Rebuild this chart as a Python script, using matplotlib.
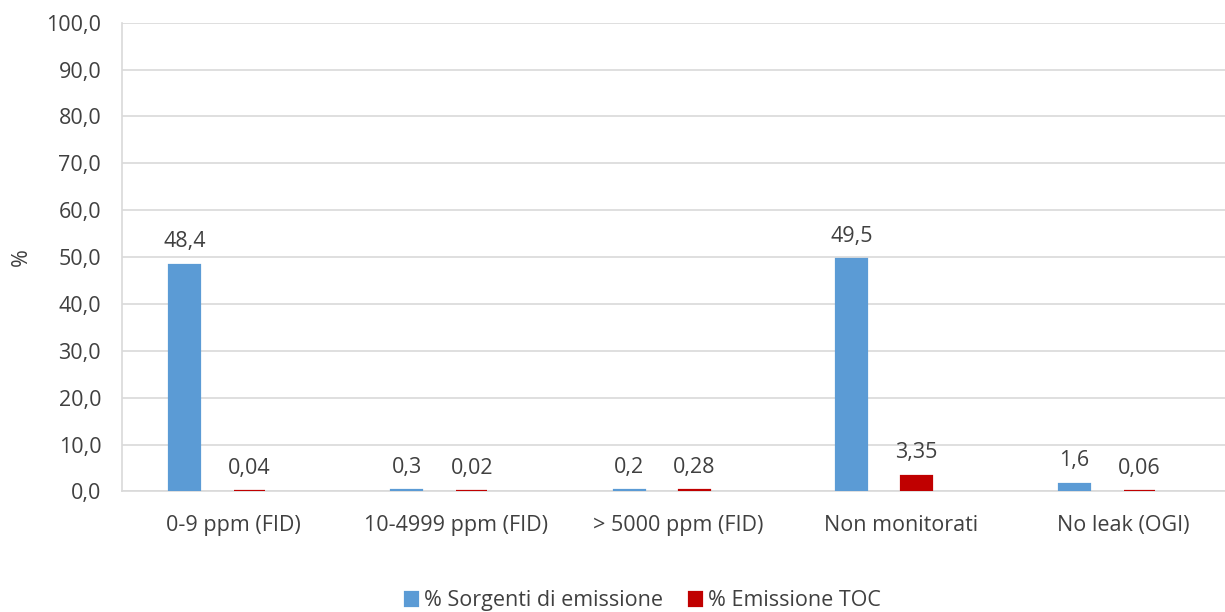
import matplotlib.pyplot as plt
import numpy as np

plt.rcParams['font.family'] = ['Open Sans', 'DejaVu Sans']

# Dati
categorie = ["0-9 ppm (FID)", "10-4999 ppm (FID)", "> 5000 ppm (FID)",
             "Non monitorati", "No leak (OGI)"]
sorgenti = [48.4, 0.3, 0.2, 49.5, 1.6]
emissione = [0.04, 0.02, 0.28, 3.35, 0.06]
etich_sorgenti = ["48,4", "0,3", "0,2", "49,5", "1,6"]
etich_emissione = ["0,04", "0,02", "0,28", "3,35", "0,06"]
yticks = np.arange(0, 101, 10)

blu = "#5B9BD5"
rosso = "#C00000"
testo = "#404040"
fs = 15.5

fig = plt.figure(figsize=(12.25, 6.12), dpi=100)
# the plot area runs a bit past the right edge, as in the original crop
ax = fig.add_axes([0.0996, 0.197, 0.908, 0.766])

x = np.arange(len(categorie))
w = 0.14
b1 = ax.bar(x - 0.22, sorgenti, w, color=blu, edgecolor=blu, linewidth=1.6,
            label="% Sorgenti di emissione", zorder=3)
b2 = ax.bar(x + 0.072, emissione, w, color=rosso, edgecolor=rosso, linewidth=1.6,
            label="% Emissione TOC", zorder=3)

for bars, labs in [(b1, etich_sorgenti), (b2, etich_emissione)]:
    for rect, lab in zip(bars, labs):
        ax.annotate(lab, (rect.get_x() + rect.get_width() / 2, rect.get_height()),
                    xytext=(0, 9), textcoords="offset points",
                    ha="center", va="bottom", fontsize=fs, color=testo)

ax.set_xlim(-0.5, len(categorie) - 0.5)
ax.set_ylim(0, 100)
ax.set_yticks(yticks)
ax.set_yticklabels([f"{v:.1f}".replace(".", ",") for v in yticks])
ax.set_xticks(x)
ax.set_xticklabels(categorie)
ax.tick_params(axis="both", length=0, labelsize=fs, colors=testo)
ax.tick_params(axis="x", pad=17)
ax.tick_params(axis="y", pad=15)
ax.grid(axis="y", color="#d9d9d9", linewidth=1.2, zorder=0)

for s in ["top", "right"]:
    ax.spines[s].set_visible(False)
ax.spines["left"].set_color("#d9d9d9")
ax.spines["bottom"].set_color("#d9d9d9")
ax.spines["left"].set_linewidth(1.2)
ax.spines["bottom"].set_linewidth(1.2)

ax.set_ylabel("%", fontsize=fs, color=testo, labelpad=10)

fig.legend(handles=[b1, b2], loc="center", bbox_to_anchor=(0.525, 0.018),
           ncol=2, frameon=False, fontsize=fs, handlelength=0.6,
           handleheight=0.6, handletextpad=0.3, columnspacing=1.2,
           labelcolor=testo)

fig.savefig("out.png", dpi=100)
